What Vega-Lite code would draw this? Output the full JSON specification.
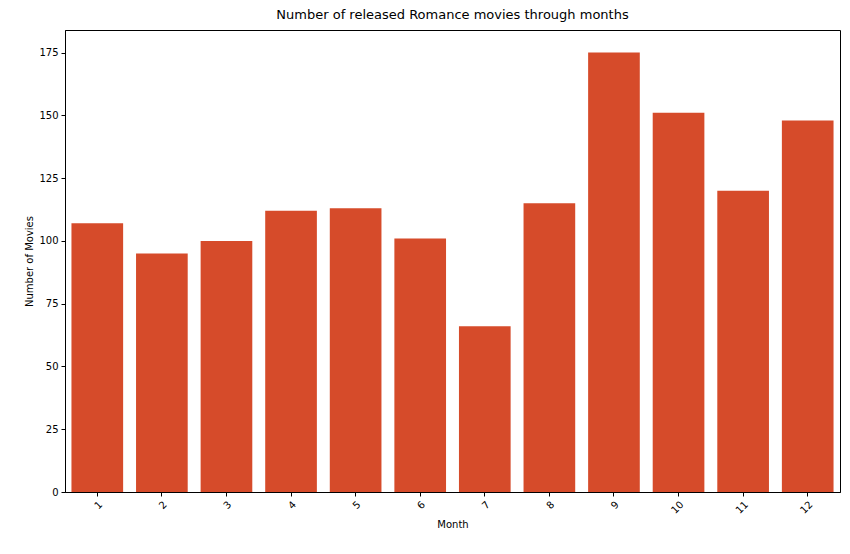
{
"$schema":"https://vega.github.io/schema/vega-lite/v6.json",
"width":775,"height":462,
"autosize":{"type":"none"},
"padding":{"left":65,"top":30,"right":10,"bottom":62},
"title":{"text":"Number of released Romance movies through months","font":"DejaVu Sans","fontSize":13,"fontWeight":"normal","offset":8},
"data":{"values":[
{"Month":1,"n":107},{"Month":2,"n":95},{"Month":3,"n":100},{"Month":4,"n":112},{"Month":5,"n":113},{"Month":6,"n":101},{"Month":7,"n":66},{"Month":8,"n":115},{"Month":9,"n":175},{"Month":10,"n":151},{"Month":11,"n":120},{"Month":12,"n":148}]},
"mark":{"type":"bar","color":"#d64b2a"},
"encoding":{
"x":{"field":"Month","type":"ordinal","scale":{"paddingInner":0.2,"paddingOuter":0.1},"axis":{"labelAngle":-45,"title":"Month"}},
"y":{"field":"n","type":"quantitative","scale":{"domain":[0,184],"nice":false},"axis":{"values":[0,25,50,75,100,125,150,175],"title":"Number of Movies","grid":false}}
},
"config":{
"view":{"stroke":"black","strokeWidth":1},
"axis":{"labelFont":"DejaVu Sans","titleFont":"DejaVu Sans","labelFontSize":10,"titleFontSize":10,"titleFontWeight":"normal","labelColor":"black","titleColor":"black","tickColor":"black","domainColor":"black","tickSize":4,"labelPadding":3}
}
}
